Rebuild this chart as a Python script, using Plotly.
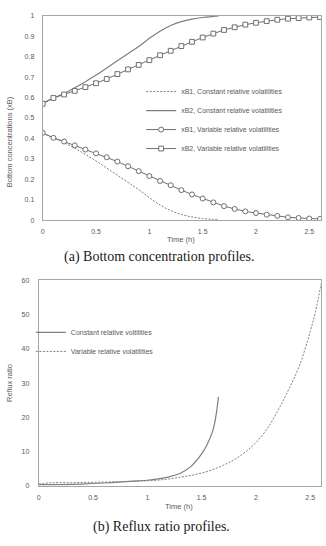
import plotly.graph_objects as go

# ---------------- data: bottom concentrations ----------------
t_const = [0, 0.1, 0.2, 0.3, 0.4, 0.5, 0.6, 0.7, 0.8, 0.9, 1.0, 1.1, 1.2, 1.3, 1.4, 1.5, 1.6, 1.65]
xb2_const = [0.573, 0.598, 0.620, 0.648, 0.678, 0.710, 0.745, 0.780, 0.815, 0.850, 0.890,
             0.925, 0.953, 0.972, 0.984, 0.992, 0.997, 1.000]
xb1_const = [0.427, 0.402, 0.380, 0.352, 0.322, 0.290, 0.255, 0.220, 0.185, 0.150, 0.110,
             0.075, 0.047, 0.028, 0.016, 0.008, 0.004, 0.003]

t_var = [0, 0.1, 0.2, 0.3, 0.4, 0.5, 0.6, 0.7, 0.8, 0.9, 1.0, 1.1, 1.2, 1.3, 1.4, 1.5, 1.6,
         1.7, 1.8, 1.9, 2.0, 2.1, 2.2, 2.3, 2.4, 2.5, 2.6]
xb1_var = [0.427, 0.403, 0.385, 0.366, 0.346, 0.327, 0.308, 0.287, 0.264, 0.240, 0.216,
           0.192, 0.171, 0.147, 0.126, 0.106, 0.087, 0.069, 0.055, 0.043, 0.035, 0.027,
           0.021, 0.014, 0.011, 0.008, 0.006]
xb2_var = [0.570, 0.598, 0.615, 0.633, 0.651, 0.670, 0.691, 0.715, 0.738, 0.760, 0.783,
           0.807, 0.829, 0.852, 0.873, 0.894, 0.913, 0.931, 0.944, 0.957, 0.966, 0.974,
           0.981, 0.986, 0.989, 0.992, 0.994]

# ---------------- data: reflux ratio ----------------
t_r_const = [0, 0.2, 0.4, 0.6, 0.8, 0.9, 1.0, 1.1, 1.2, 1.3, 1.4, 1.5, 1.55, 1.6, 1.63, 1.655]
r_const = [0.3, 0.35, 0.5, 0.8, 1.2, 1.4, 1.6, 2.0, 2.6, 3.6, 5.6, 9.3, 12.0, 15.8, 20.0, 26.0]
t_r_var = [0, 0.1, 0.3, 0.5, 0.7, 0.9, 1.0, 1.1, 1.2, 1.3, 1.4, 1.5, 1.6, 1.7, 1.8, 1.9, 2.0,
           2.1, 2.2, 2.3, 2.4, 2.5, 2.55, 2.6]
r_var = [0.5, 0.85, 0.9, 1.0, 1.15, 1.3, 1.45, 1.65, 2.0, 2.5, 3.0, 3.7, 4.7, 6.0, 7.6, 9.8,
         12.6, 16.5, 21.8, 28.0, 35.0, 45.0, 51.0, 59.0]

x_ticks = [0, 0.5, 1, 1.5, 2, 2.5]
x_tick_text = ["0", "0.5", "1", "1.5", "2", "2.5"]

names_top = ["xB1, Constant relative volatilities", "xB2, Constant relative volatilities",
             "xB1, Variable relative volatilities", "xB2, Variable relative volatilities"]
names_bot = ["Constant relative voltilities", "Variable relative volatilities"]

W, H = 326, 546
GRAY = "#7f7f7f"
DARK = "#6f6f6f"
TXT = "#595959"
FONT = "Liberation Sans"


def px(x):
    return x / W


def py(y):
    return 1 - y / H


fig = go.Figure()
fig.add_trace(go.Scatter(x=t_const, y=xb1_const, mode="lines", name=names_top[0],
                         line=dict(color=GRAY, width=1, dash="2px,1.5px", shape="spline"),
                         xaxis="x", yaxis="y", legend="legend"))
fig.add_trace(go.Scatter(x=t_const, y=xb2_const, mode="lines", name=names_top[1],
                         line=dict(color=GRAY, width=1.2, shape="spline"),
                         xaxis="x", yaxis="y", legend="legend"))
fig.add_trace(go.Scatter(x=t_var, y=xb1_var, mode="lines+markers", name=names_top[2],
                         line=dict(color=DARK, width=1),
                         marker=dict(symbol="circle", size=5, color="white",
                                     line=dict(color=DARK, width=1)),
                         xaxis="x", yaxis="y", legend="legend"))
fig.add_trace(go.Scatter(x=t_var, y=xb2_var, mode="lines+markers", name=names_top[3],
                         line=dict(color=DARK, width=1),
                         marker=dict(symbol="square", size=4.8, color="white",
                                     line=dict(color=DARK, width=1)),
                         xaxis="x", yaxis="y", legend="legend"))

fig.add_trace(go.Scatter(x=t_r_const, y=r_const, mode="lines", name=names_bot[0],
                         line=dict(color=GRAY, width=1.2, shape="spline"),
                         xaxis="x2", yaxis="y2", legend="legend2"))
fig.add_trace(go.Scatter(x=t_r_var, y=r_var, mode="lines", name=names_bot[1],
                         line=dict(color=GRAY, width=1, dash="2px,1.5px", shape="spline"),
                         xaxis="x2", yaxis="y2", legend="legend2"))

axis_common = dict(showgrid=False, zeroline=False, showline=True, mirror=True,
                   linecolor="#a6a6a6", linewidth=1, ticks="",
                   tickfont=dict(family=FONT, size=7, color=TXT))

fig.update_layout(
    width=W, height=H,
    margin=dict(l=0, r=0, t=0, b=0),
    paper_bgcolor="white", plot_bgcolor="white",
    xaxis=dict(domain=[px(41), px(321)], range=[0, 2.61], tickvals=x_ticks,
               ticktext=x_tick_text, anchor="y", ticklabelstandoff=4, **axis_common),
    yaxis=dict(domain=[py(219), py(12)], range=[0, 1], dtick=0.1, anchor="x",
               ticklabelstandoff=6, **axis_common),
    xaxis2=dict(domain=[px(37), px(321)], range=[0, 2.6], tickvals=x_ticks,
                ticktext=x_tick_text, anchor="y2", ticklabelstandoff=5, **axis_common),
    yaxis2=dict(domain=[py(488), py(280)], range=[0, 60], dtick=10, anchor="x2",
                ticklabelstandoff=7, **axis_common),
    legend=dict(x=px(140), y=py(74), xanchor="left", yanchor="top",
                bgcolor="rgba(0,0,0,0)", font=dict(family=FONT, size=7, color=TXT),
                itemwidth=30, tracegroupgap=0),
    legend2=dict(x=px(29), y=py(318), xanchor="left", yanchor="top",
                 bgcolor="rgba(0,0,0,0)", font=dict(family=FONT, size=7, color=TXT),
                 itemwidth=30, tracegroupgap=0),
    showlegend=True,
)

ann_font = dict(family=FONT, size=7.5, color=TXT)
cap_font = dict(family="Liberation Serif", size=14, color="#1a1a1a")
fig.add_annotation(text="Time (h)", x=px(180.5), y=py(239), xref="paper", yref="paper",
                   showarrow=False, font=ann_font, xanchor="center", yanchor="middle")
fig.add_annotation(text="Bottom concentrations (xB)", x=px(7), y=py(139), xref="paper",
                   yref="paper", showarrow=False, font=ann_font, textangle=-90,
                   xanchor="center", yanchor="middle")
fig.add_annotation(text="(a) Bottom concentration profiles.", x=px(158.5), y=py(256),
                   xref="paper", yref="paper", showarrow=False, font=cap_font,
                   xanchor="center", yanchor="middle")
fig.add_annotation(text="Time (h)", x=px(178.5), y=py(509), xref="paper", yref="paper",
                   showarrow=False, font=ann_font, xanchor="center", yanchor="middle")
fig.add_annotation(text="Reflux ratio", x=px(7), y=py(384), xref="paper", yref="paper",
                   showarrow=False, font=ann_font, textangle=-90,
                   xanchor="center", yanchor="middle")
fig.add_annotation(text="(b) Reflux ratio profiles.", x=px(160), y=py(530),
                   xref="paper", yref="paper", showarrow=False, font=cap_font,
                   xanchor="center", yanchor="middle")

fig.write_html("out.html")
